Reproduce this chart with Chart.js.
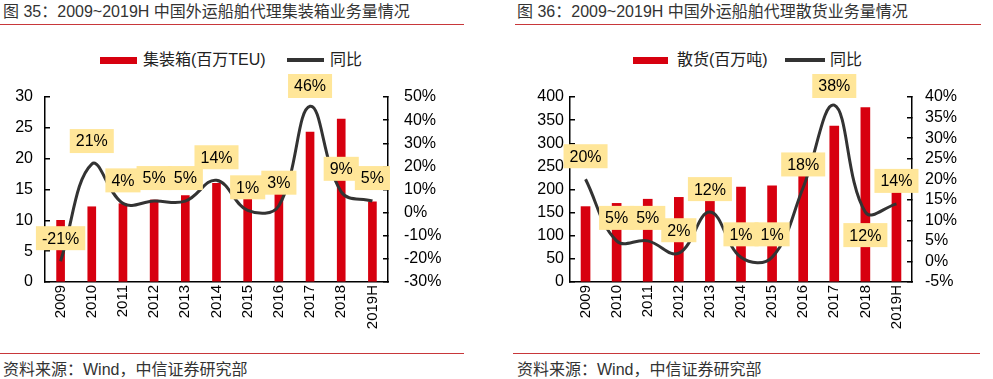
<!DOCTYPE html>
<html>
<head>
<meta charset="utf-8">
<script src="https://cdn.jsdelivr.net/npm/chart.js@4.4.1/dist/chart.umd.min.js"></script>
<style>
    body { margin: 0; width: 993px; height: 379px; background: #fff; position: relative; overflow: hidden;
           font-family: 'Liberation Sans', 'Noto Sans CJK SC', sans-serif; color: #333; }
    .title { position: absolute; top: 2px; font-size: 16px; line-height: 20px; white-space: nowrap; }
    .rule { position: absolute; height: 1px; background: #c8373a; }
    .key { position: absolute; top: 50px; font-size: 16px; line-height: 20px; white-space: nowrap; color: #222; }
    .swatch { position: absolute; }
    .foot { position: absolute; top: 360px; font-size: 16px; line-height: 20px; white-space: nowrap; }
    canvas { position: absolute; top: 30px; }
</style>
</head>
<body>
<div class="title" style="left:3px">图 35：2009~2019H 中国外运船舶代理集装箱业务量情况</div>
<div class="rule" style="left:0; width:464px; top:24px"></div>
<div class="title" style="left:517px">图 36：2009~2019H 中国外运船舶代理散货业务量情况</div>
<div class="rule" style="left:515px; width:466px; top:24px"></div>

<div class="swatch" style="left:100px; top:57px; width:37px; height:7px; background:#d7000f"></div>
<div class="key" style="left:143px">集装箱(百万TEU)</div>
<div class="swatch" style="left:287px; top:58px; width:37px; height:4px; background:#333"></div>
<div class="key" style="left:330px">同比</div>

<div class="swatch" style="left:633px; top:57px; width:35px; height:7px; background:#d7000f"></div>
<div class="key" style="left:677px">散货(百万吨)</div>
<div class="swatch" style="left:785px; top:58px; width:40px; height:4px; background:#333"></div>
<div class="key" style="left:830px">同比</div>

<canvas id="chartBox" width="470" height="322" style="left:0"></canvas>
<canvas id="chartBulk" width="493" height="322" style="left:500px"></canvas>

<div class="rule" style="left:0; width:464px; top:353px"></div>
<div class="foot" style="left:3px">资料来源：Wind，中信证券研究部</div>
<div class="rule" style="left:513px; width:467px; top:353px"></div>
<div class="foot" style="left:517px">资料来源：Wind，中信证券研究部</div>

<script>
// Dados
var years = ['2009', '2010', '2011', '2012', '2013', '2014', '2015', '2016', '2017', '2018', '2019H'];

// 图35 集装箱(百万TEU) e 同比 (%)
var boxVolume = [10.0, 12.2, 12.7, 13.3, 14.0, 16.0, 16.2, 16.7, 24.3, 26.4, 13.0];
var boxYoY = [-21, 21, 4, 5, 5, 14, 1, 3, 46, 9, 5];

// 图36 散货(百万吨) e 同比 (%)
var bulkVolume = [163, 170, 179, 183, 203, 205, 208, 245, 337, 377, 195];
var bulkYoY = [20, 5, 5, 2, 12, 1, 1, 18, 38, 12, 14];

var fontFamily = "'Liberation Sans', 'Noto Sans CJK SC', sans-serif";
Chart.defaults.font.family = fontFamily;
Chart.defaults.color = '#000';

// Plugin para desenhar as caixas amarelas com os rótulos
var labelBoxes = {
    id: 'labelBoxes',
    afterDatasetsDraw: function(chart, args, opts) {
        var meta = chart.getDatasetMeta(opts.dataset);
        var values = chart.data.datasets[opts.dataset].data;
        var ctx = chart.ctx;
        var items = [];
        ctx.save();
        ctx.font = '16px ' + fontFamily;
        meta.data.forEach(function(pt, i) {
            var txt = values[i] + '%';
            var y = pt.y + (opts.below.indexOf(i) >= 0 ? 23 : -23);
            y = Math.max(y, opts.minY);
            items.push({ x: pt.x, y: y, txt: txt, w: ctx.measureText(txt).width + 12 });
        });
        ctx.fillStyle = '#ffe699';
        items.forEach(function(it) {
            ctx.fillRect(it.x - it.w / 2, it.y - 12, it.w, 24);
        });
        ctx.fillStyle = '#000';
        ctx.textAlign = 'center';
        ctx.textBaseline = 'middle';
        items.forEach(function(it) {
            ctx.fillText(it.txt, it.x, it.y + 1);
        });
        ctx.restore();
    }
};

// Função para montar cada gráfico
function buildChart(id, cfg) {
    var ctx = document.getElementById(id).getContext('2d');
    return new Chart(ctx, {
        type: 'bar',
        data: {
            labels: years,
            datasets: [
                {
                    label: cfg.barLabel,
                    data: cfg.bars,
                    backgroundColor: '#d7000f',
                    barThickness: cfg.barThickness,
                    yAxisID: 'y',
                    order: 2
                },
                {
                    label: '同比',
                    type: 'line',
                    data: cfg.yoy,
                    borderColor: '#333333',
                    borderWidth: 3,
                    pointRadius: 0,
                    tension: 0.4,
                    fill: false,
                    yAxisID: 'y1',
                    order: 1
                }
            ]
        },
        options: {
            responsive: false,
            animation: false,
            layout: { padding: { top: 67, bottom: 0, left: 0, right: 0 } },
            scales: {
                x: {
                    grid: { display: false, drawTicks: false },
                    border: { color: '#000', width: 1.5 },
                    ticks: { minRotation: 90, maxRotation: 90, autoSkip: false, padding: 3, font: { size: 15 } },
                    afterFit: function(s) { s.height = 70; }
                },
                y: {
                    position: 'left',
                    min: cfg.yMin, max: cfg.yMax,
                    ticks: { stepSize: cfg.yStep, autoSkip: false, padding: cfg.leftPad, font: { size: 16 } },
                    grid: { drawOnChartArea: false, drawTicks: true, tickLength: -5, color: '#000', lineWidth: 1.5 },
                    border: { color: '#000', width: 1.5 },
                    afterFit: function(s) { s.width = cfg.leftWidth; }
                },
                y1: {
                    position: 'right',
                    min: cfg.y1Min, max: cfg.y1Max,
                    ticks: {
                        stepSize: cfg.y1Step, autoSkip: false, padding: cfg.rightPad, font: { size: 16 },
                        callback: function(v) { return v + '%'; }
                    },
                    grid: { drawOnChartArea: false, drawTicks: true, tickLength: -5, color: '#000', lineWidth: 1.5 },
                    border: { color: '#000', width: 1.5 },
                    afterFit: function(s) { s.width = cfg.rightWidth; }
                }
            },
            plugins: {
                legend: { display: false },
                tooltip: { enabled: false },
                labelBoxes: { dataset: 1, below: cfg.below, minY: 56 }
            }
        },
        plugins: [labelBoxes]
    });
}

buildChart('chartBox', {
    barLabel: '集装箱(百万TEU)', bars: boxVolume, yoy: boxYoY, barThickness: 8,
    yMin: 0, yMax: 30, yStep: 5, y1Min: -30, y1Max: 50, y1Step: 10,
    leftWidth: 45, rightWidth: 82, leftPad: 17, rightPad: 21, below: []
});

buildChart('chartBulk', {
    barLabel: '散货(百万吨)', bars: bulkVolume, yoy: bulkYoY, barThickness: 9,
    yMin: 0, yMax: 400, yStep: 50, y1Min: -5, y1Max: 40, y1Step: 5,
    leftWidth: 70, rightWidth: 81, leftPad: 11, rightPad: 18, below: [9]
});
</script>
</body>
</html>
